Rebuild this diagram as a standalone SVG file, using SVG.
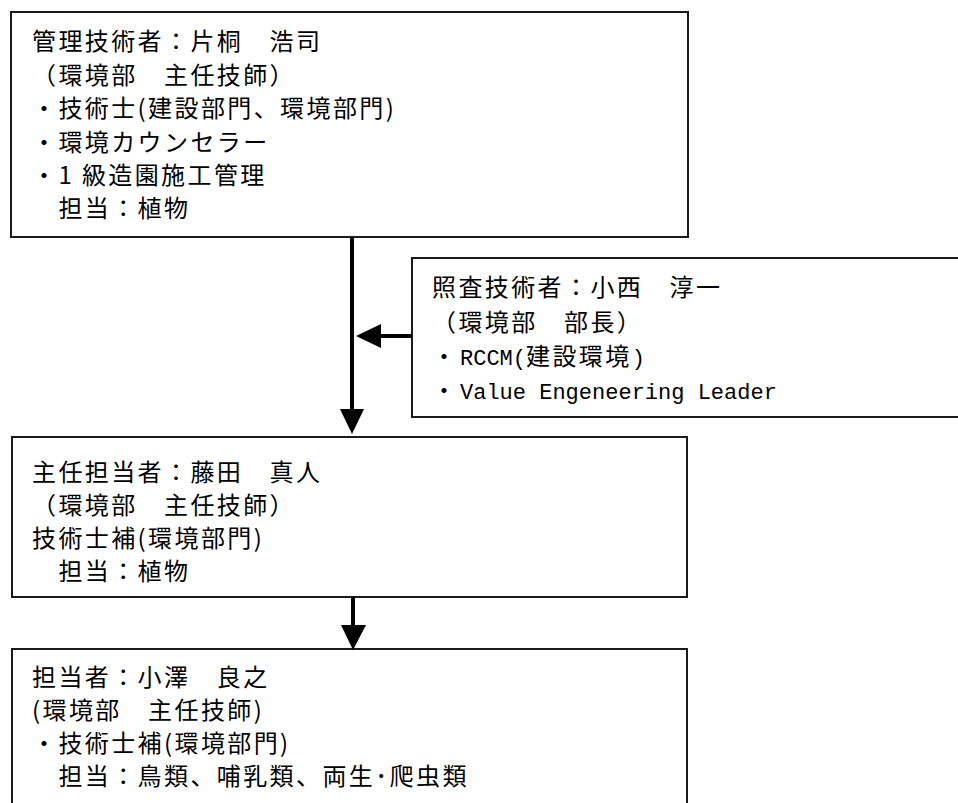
<svg xmlns="http://www.w3.org/2000/svg" width="958" height="803" viewBox="0 0 958 803">
<defs>
<style>
.box{fill:#fff;stroke:#1a1a1a;stroke-width:2}
.t{font-family:"Noto Sans CJK JP","Noto Sans CJK SC",sans-serif;font-size:24px;letter-spacing:2.4px;fill:#000}
.m{font-family:"Liberation Mono","Noto Sans CJK JP",monospace;font-size:22px;letter-spacing:0}
.ln{stroke:#000;stroke-width:4;fill:none}
.ah{fill:#000}
</style>
</defs>
<rect width="958" height="803" fill="#fff"/>
<g id="kanri">
<rect class="box" x="11" y="12" width="677" height="225"/>
<text class="t" x="32" y="50">管理技術者：片桐　浩司</text>
<text class="t" x="32" y="84">（環境部　主任技師）</text>
<text class="t" x="32" y="117">・技術士(建設部門、環境部門)</text>
<text class="t" x="32" y="151">・環境カウンセラー</text>
<text class="t" x="32" y="184">・1 級造園施工管理</text>
<text class="t" x="32" y="217">　担当：植物</text>
</g>
<g id="shousa">
<rect class="box" x="412" y="258" width="560" height="159"/>
<text class="t" x="432" y="296">照査技術者：小西　淳一</text>
<text class="t" x="432" y="331">（環境部　部長）</text>
<text class="t" x="432" y="365">・<tspan class="m" x="460">RCCM(</tspan>建設環境<tspan class="m">)</tspan></text>
<text class="t" x="432" y="399">・<tspan class="m" x="460">Value Engeneering Leader</tspan></text>
</g>
<g id="shunin">
<rect class="box" x="12" y="437" width="675" height="160"/>
<text class="t" x="32" y="481">主任担当者：藤田　真人</text>
<text class="t" x="32" y="514">（環境部　主任技師）</text>
<text class="t" x="32" y="547">技術士補(環境部門)</text>
<text class="t" x="32" y="580">　担当：植物</text>
</g>
<g id="tantou">
<rect class="box" x="12" y="649" width="675" height="170"/>
<text class="t" x="32" y="686">担当者：小澤　良之</text>
<text class="t" x="32" y="719">(環境部　主任技師)</text>
<text class="t" x="32" y="752">・技術士補(環境部門)</text>
<text class="t" x="32" y="785">　担当：鳥類、哺乳類、両生･爬虫類</text>
</g>
<g id="connectors">
<line class="ln" x1="352" y1="237" x2="352" y2="412"/>
<polygon class="ah" points="340,409 364,409 352,434"/>
<line class="ln" x1="412" y1="336" x2="378" y2="336"/>
<polygon class="ah" points="381,324 381,348 356,336"/>
<line class="ln" x1="353" y1="597" x2="353" y2="628"/>
<polygon class="ah" points="341,625 366,625 353,650"/>
</g>
</svg>
